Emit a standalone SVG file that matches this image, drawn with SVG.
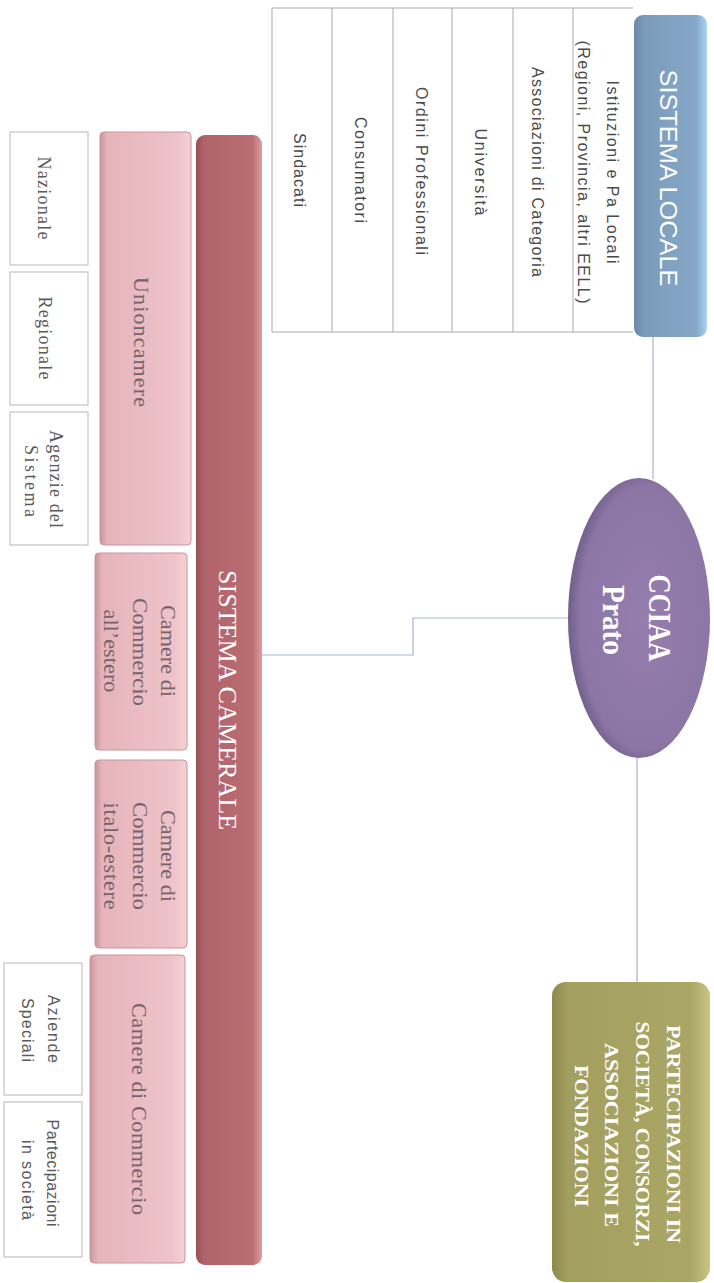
<svg xmlns="http://www.w3.org/2000/svg" width="714" height="1283" viewBox="0 0 714 1283">
<defs>
<style>
.t{text-anchor:middle;}
.sans{font-family:"Liberation Sans","DejaVu Sans",sans-serif;}
.serif{font-family:"Liberation Serif","DejaVu Serif",serif;}
.tab{font-size:16px;fill:#4a4a4a;}
.wb{font-size:18px;fill:#5a5a5a;}
.wbs{font-size:16px;fill:#5a5a5a;}
.pk{font-size:22px;fill:#76636a;}
.wbox{fill:#ffffff;stroke:#c4c4c4;stroke-width:1.2;}
.pbox{fill:url(#gPink);stroke:#c9959e;stroke-width:1;}
.conn{fill:none;stroke:#a4b6cc;stroke-width:1.2;}
.grid{stroke:#a9a9a9;stroke-width:1;fill:none;}
</style>
<linearGradient id="gPink" x1="0" y1="0" x2="1" y2="0">
<stop offset="0" stop-color="#c9949c"/>
<stop offset="0.08" stop-color="#e6b4bb"/>
<stop offset="0.85" stop-color="#eec3c9"/>
<stop offset="1" stop-color="#f4d0d5"/>
</linearGradient>
<linearGradient id="gBar" x1="0" y1="0" x2="1" y2="0">
<stop offset="0" stop-color="#9a5053"/>
<stop offset="0.12" stop-color="#b0636a"/>
<stop offset="0.85" stop-color="#b96e72"/>
<stop offset="1" stop-color="#e29ca2"/>
</linearGradient>
<linearGradient id="gBlue" x1="0" y1="0" x2="1" y2="0">
<stop offset="0" stop-color="#6b8aa8"/>
<stop offset="0.15" stop-color="#7b9bba"/>
<stop offset="0.85" stop-color="#86a8c8"/>
<stop offset="1" stop-color="#a9d3f0"/>
</linearGradient>
<linearGradient id="gOlive" x1="0" y1="0" x2="1" y2="0">
<stop offset="0" stop-color="#8d894c"/>
<stop offset="0.1" stop-color="#a39f5f"/>
<stop offset="0.88" stop-color="#aaa766"/>
<stop offset="1" stop-color="#c9c584"/>
</linearGradient>
<radialGradient id="gPurple" cx="0.55" cy="0.5" r="0.55">
<stop offset="0" stop-color="#957eae"/>
<stop offset="0.85" stop-color="#8c76a5"/>
<stop offset="1" stop-color="#6f5e8a"/>
</radialGradient>
</defs>
<rect width="714" height="1283" fill="#ffffff"/>

<g id="connectors">
<line class="conn" x1="653" y1="337" x2="653" y2="479"/>
<polyline class="conn" points="569,618 413,618 413,655 262,655"/>
<line class="conn" x1="637" y1="757" x2="637" y2="983"/>
</g>

<g id="sistema-locale-table">
<rect x="272" y="8" width="361" height="324" fill="#ffffff"/>
<path class="grid" d="M272,8 H633 M272,332 H633 M272,8 V332 M332,8 V332 M393,8 V332 M452,8 V332 M513,8 V332 M573,8 V332"/>
<text class="t sans tab" transform="translate(613,172) rotate(90)" dy="0.35em" textLength="183" lengthAdjust="spacing">Istituzioni e Pa Locali</text>
<text class="t sans tab" transform="translate(584,172) rotate(90)" dy="0.35em" textLength="263" lengthAdjust="spacing">(Regioni, Provincia, altri EELL)</text>
<text class="t sans tab" transform="translate(538,172) rotate(90)" dy="0.35em" textLength="210" lengthAdjust="spacing">Associazioni di Categoria</text>
<text class="t sans tab" transform="translate(481,172) rotate(90)" dy="0.35em" textLength="87" lengthAdjust="spacing">Università</text>
<text class="t sans tab" transform="translate(422,171) rotate(90)" dy="0.35em" textLength="168" lengthAdjust="spacing">Ordini Professionali</text>
<text class="t sans tab" transform="translate(361,170) rotate(90)" dy="0.35em" textLength="106" lengthAdjust="spacing">Consumatori</text>
<text class="t sans tab" transform="translate(300,170) rotate(90)" dy="0.35em" textLength="74" lengthAdjust="spacing">Sindacati</text>
</g>

<g id="sistema-locale">
<rect x="634" y="15" width="73" height="322" rx="9" fill="url(#gBlue)"/>
<text class="t sans" transform="translate(668,178) rotate(90)" dy="0.35em" font-size="24" fill="#ffffff" textLength="217" lengthAdjust="spacingAndGlyphs">SISTEMA LOCALE</text>
</g>

<g id="cciaa-prato">
<ellipse cx="639" cy="618" rx="71" ry="140" fill="url(#gPurple)"/>
<text class="t serif" transform="translate(660,618) rotate(90)" dy="0.35em" font-size="32" font-weight="bold" fill="#ffffff" textLength="87" lengthAdjust="spacingAndGlyphs">CCIAA</text>
<text class="t serif" transform="translate(614,620) rotate(90)" dy="0.35em" font-size="32" font-weight="bold" fill="#ffffff" textLength="70" lengthAdjust="spacingAndGlyphs">Prato</text>
</g>

<g id="partecipazioni">
<rect x="552" y="982" width="158" height="300" rx="14" fill="url(#gOlive)"/>
<text class="t serif" transform="translate(673,1134) rotate(90)" dy="0.35em" font-size="18" font-weight="bold" fill="#ffffff" textLength="218" lengthAdjust="spacingAndGlyphs">PARTECIPAZIONI IN</text>
<text class="t serif" transform="translate(642,1134) rotate(90)" dy="0.35em" font-size="18" font-weight="bold" fill="#ffffff" textLength="225" lengthAdjust="spacingAndGlyphs">SOCIETÀ, CONSORZI,</text>
<text class="t serif" transform="translate(611,1135) rotate(90)" dy="0.35em" font-size="18" font-weight="bold" fill="#ffffff" textLength="184" lengthAdjust="spacingAndGlyphs">ASSOCIAZIONI E</text>
<text class="t serif" transform="translate(581,1136) rotate(90)" dy="0.35em" font-size="18" font-weight="bold" fill="#ffffff" textLength="142" lengthAdjust="spacingAndGlyphs">FONDAZIONI</text>
</g>

<g id="sistema-camerale">
<rect x="196" y="135" width="66" height="1130" rx="9" fill="url(#gBar)"/>
<text class="t serif" transform="translate(228,700) rotate(90)" dy="0.35em" font-size="25" fill="#ffffff" textLength="260" lengthAdjust="spacingAndGlyphs">SISTEMA CAMERALE</text>
</g>

<g id="unioncamere">
<rect class="pbox" x="100" y="132" width="91" height="413" rx="4"/>
<text class="t serif pk" transform="translate(142,342) rotate(90)" dy="0.35em" textLength="130" lengthAdjust="spacing">Unioncamere</text>
</g>

<g id="camere-estero">
<rect class="pbox" x="95" y="553" width="92" height="197" rx="4"/>
<text class="t serif pk" transform="translate(169,651) rotate(90)" dy="0.35em" textLength="92" lengthAdjust="spacingAndGlyphs">Camere di</text>
<text class="t serif pk" transform="translate(141,652) rotate(90)" dy="0.35em" textLength="108" lengthAdjust="spacingAndGlyphs">Commercio</text>
<text class="t serif pk" transform="translate(112,651) rotate(90)" dy="0.35em" textLength="83" lengthAdjust="spacingAndGlyphs">all’estero</text>
</g>

<g id="camere-italo-estere">
<rect class="pbox" x="95" y="760" width="92" height="188" rx="4"/>
<text class="t serif pk" transform="translate(169,856) rotate(90)" dy="0.35em" textLength="92" lengthAdjust="spacingAndGlyphs">Camere di</text>
<text class="t serif pk" transform="translate(141,856) rotate(90)" dy="0.35em" textLength="108" lengthAdjust="spacingAndGlyphs">Commercio</text>
<text class="t serif pk" transform="translate(112,856) rotate(90)" dy="0.35em" textLength="107" lengthAdjust="spacing">italo-estere</text>
</g>

<g id="camere-commercio">
<rect class="pbox" x="90" y="955" width="95" height="308" rx="4"/>
<text class="t serif pk" transform="translate(140,1109) rotate(90)" dy="0.35em" textLength="212" lengthAdjust="spacing">Camere di Commercio</text>
</g>

<g id="nazionale">
<rect class="wbox" x="10" y="132" width="78" height="133"/>
<text class="t serif wb" transform="translate(44,198) rotate(90)" dy="0.35em" textLength="83" lengthAdjust="spacing">Nazionale</text>
</g>

<g id="regionale">
<rect class="wbox" x="10" y="272" width="78" height="133"/>
<text class="t serif wb" transform="translate(45,338) rotate(90)" dy="0.35em" textLength="83" lengthAdjust="spacing">Regionale</text>
</g>

<g id="agenzie">
<rect class="wbox" x="10" y="412" width="78" height="133"/>
<text class="t serif wb" transform="translate(56,479) rotate(90)" dy="0.35em" textLength="98" lengthAdjust="spacing">Agenzie del</text>
<text class="t serif wb" transform="translate(31,481) rotate(90)" dy="0.35em" textLength="72" lengthAdjust="spacing">Sistema</text>
</g>

<g id="aziende-speciali">
<rect class="wbox" x="4" y="963" width="78" height="132"/>
<text class="t sans wbs" transform="translate(54,1029) rotate(90)" dy="0.35em" textLength="68" lengthAdjust="spacing">Aziende</text>
<text class="t sans wbs" transform="translate(28,1030) rotate(90)" dy="0.35em" textLength="64" lengthAdjust="spacing">Speciali</text>
</g>

<g id="partecipazioni-societa">
<rect class="wbox" x="4" y="1102" width="78" height="155"/>
<text class="t sans wbs" transform="translate(53,1173) rotate(90)" dy="0.35em" textLength="107" lengthAdjust="spacing">Partecipazioni</text>
<text class="t sans wbs" transform="translate(28,1180) rotate(90)" dy="0.35em" textLength="80" lengthAdjust="spacing">in società</text>
</g>
</svg>
